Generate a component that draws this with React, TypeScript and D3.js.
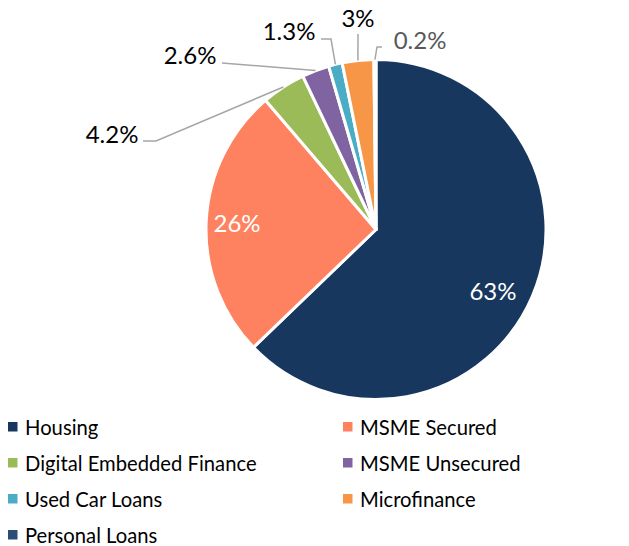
import React from 'react';
import * as d3 from 'd3';

const categories = [
  'Housing',
  'MSME Secured',
  'Digital Embedded Finance',
  'MSME Unsecured',
  'Used Car Loans',
  'Microfinance',
  'Personal Loans',
];
const shares = [63, 26, 4.2, 2.6, 1.3, 3, 0.2];
const shareLabels = ['63%', '26%', '4.2%', '2.6%', '1.3%', '3%', '0.2%'];
const colors = ['#17375E', '#FF8260', '#9BBB59', '#8064A2', '#4BACC6', '#F79646', '#2C4D75'];

// label placement (relative to the pie centre); inside labels have no leader
const labelLayout = [
  { inside: true, dx: 117, dy: 61 },
  { inside: true, dx: -139, dy: -7 },
  { inside: false, dx: -264, dy: -96, ex: -220, ey: -88.5, tx: -233 },
  { inside: false, dx: -186, dy: -175, ex: -154, ey: -166.5, tx: -154 },
  { inside: false, dx: -87, dy: -199, ex: -45, ey: -190.5, tx: -55 },
  { inside: false, dx: -18, dy: -212, ex: -18, ey: -195.5, tx: -18 },
  { inside: false, dx: 44, dy: -190, ex: 1, ey: -182.5, tx: 6 },
];

const W = 629;
const H = 546;
const cx = 376;
const cy = 229.5;
const R = 170;
const font = 'Lato, "Open Sans", sans-serif';

export default function App() {
  const pie = d3.pie<number>().sort(null).value(d => d)(shares);
  const arc = d3.arc<d3.PieArcDatum<number>>().innerRadius(0).outerRadius(R);

  return (
    <svg width={W} height={H} style={{ position: 'absolute', left: 0, top: 0 }}>
      <rect width={W} height={H} fill="#fff" />
      <g transform={`translate(${cx},${cy})`}>
        {pie.map((p, i) => (
          <path key={i} d={arc(p) || ''} fill={colors[i]} stroke="#fff" strokeWidth={3} strokeLinejoin="round" />
        ))}
        {pie.map((p, i) => {
          const L = labelLayout[i];
          if (L.inside) {
            return (
              <text key={'t' + i} x={L.dx} y={L.dy} fill="#fff" fontSize={24} fontFamily={font}
                textAnchor="middle" dominantBaseline="central">{shareLabels[i]}</text>
            );
          }
          const mid = (p.startAngle + p.endAngle) / 2;
          const ax = Math.sin(mid) * R;
          const ay = -Math.cos(mid) * R;
          const pts: [number, number][] = [[ax, ay], [L.ex!, L.ey!], [L.tx!, L.ey!]];
          return (
            <g key={'l' + i}>
              <path d={d3.line()(pts) || ''} fill="none" stroke="#A6A6A6" strokeWidth={1.5} />
              <text x={L.dx} y={L.dy} fill={i === 6 ? '#595959' : '#000'} fontSize={24} fontFamily={font}
                textAnchor="middle" dominantBaseline="central">{shareLabels[i]}</text>
            </g>
          );
        })}
      </g>
      <g fontFamily={font} fontSize={22}>
        {categories.map((c, i) => {
          const col = i % 2;
          const row = Math.floor(i / 2);
          const x = col === 0 ? 8 : 343;
          const y = 427 + row * 36;
          return (
            <g key={c} transform={`translate(${x},${y})`}>
              <rect x={0} y={-5} width={9.5} height={9.5} fill={colors[i]} />
              <text transform="translate(17,0) scale(0.92,1)" dominantBaseline="central" fill="#000">{c}</text>
            </g>
          );
        })}
      </g>
    </svg>
  );
}
